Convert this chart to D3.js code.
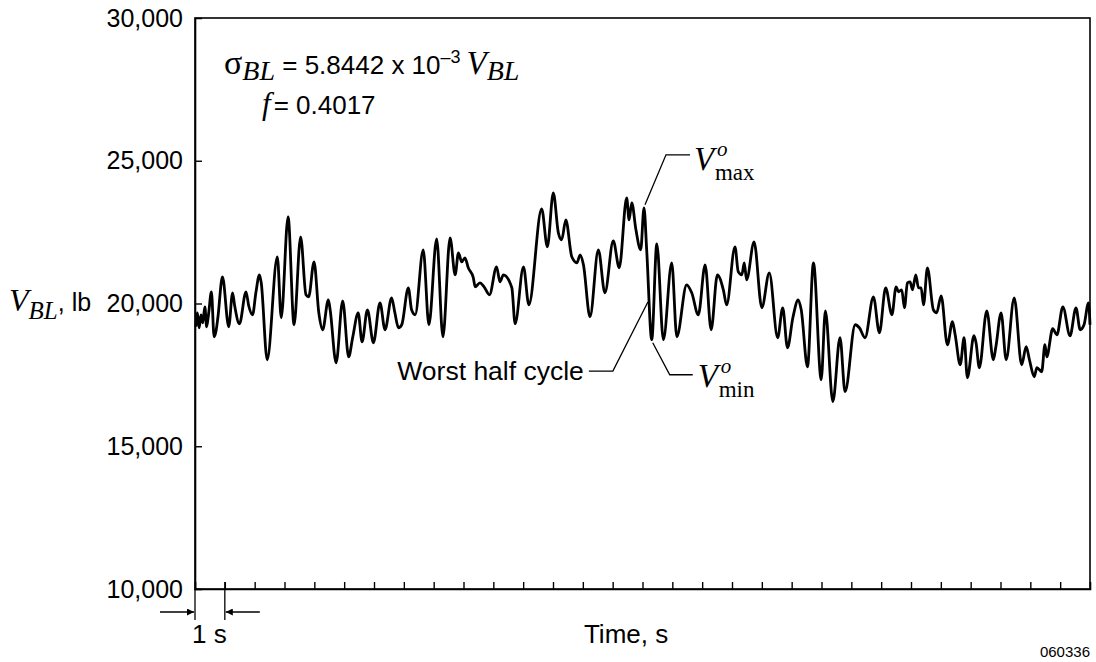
<!DOCTYPE html>
<html>
<head>
<meta charset="utf-8">
<script src="https://cdn.jsdelivr.net/npm/d3@7"></script>
<style>
  body { margin: 0; background: #fff; }
  .sans { font-family: "Liberation Sans", Arial, Helvetica, sans-serif; }
  .serif { font-family: "Liberation Serif", "Times New Roman", serif; }
</style>
</head>
<body>
<div id="chart"></div>
<script>
// Data: time (s) and bending load V_BL (lb)
var timeS = [0.03,0.08,0.14,0.20,0.26,0.33,0.39,0.46,0.55,0.64,0.70,0.77,0.92,1.13,1.26,1.33,1.49,1.71,1.80,1.93,
  2.04,2.16,2.22,2.42,2.76,2.89,3.12,3.32,3.54,3.72,3.81,3.99,4.15,4.28,4.47,4.53,4.73,4.95,5.15,5.29,
  5.47,5.60,5.78,5.98,6.20,6.37,6.59,6.70,6.82,6.93,7.15,7.26,7.38,7.65,7.84,8.10,8.31,8.55,8.72,8.83,
  8.94,9.05,9.16,9.33,9.39,9.55,9.69,9.87,10.11,10.22,10.34,10.62,10.73,11.01,11.19,11.62,11.81,12.01,12.18,12.29,
  12.43,12.63,12.80,12.91,13.02,13.24,13.52,13.74,14.02,14.22,14.47,14.55,14.64,14.78,14.94,15.05,15.14,15.31,15.48,15.70,
  15.98,16.15,16.48,16.65,16.87,17.10,17.30,17.51,17.71,17.82,18.10,18.21,18.33,18.41,18.49,18.74,19.00,19.25,19.53,19.70,
  19.86,20.04,20.22,20.32,20.53,20.73,20.99,21.13,21.38,21.62,21.79,22.13,22.27,22.46,22.74,22.94,23.15,23.36,23.50,23.58,
  23.69,23.78,23.88,23.97,24.05,24.16,24.25,24.34,24.42,24.55,24.75,24.86,25.01,25.22,25.39,25.48,25.65,25.78,25.89,26.11,
  26.18,26.29,26.54,26.76,26.85,27.02,27.19,27.46,27.71,27.86,27.97,28.13,28.22,28.38,28.49,28.55,28.75,28.89,29.09,29.33,
  29.53,29.67,29.80,29.95,30.00];
var loadLb = [19185,19675,19150,19605,19325,19885,19185,19675,20410,18835,19010,19535,20935,19185,20375,19920,19290,20410,19920,19605,
  20375,21005,20725,18030,21635,19500,23035,19255,22335,20305,20235,21460,19675,19080,20130,19780,17925,20095,18135,18835,
  19675,18660,19780,18625,20025,19080,20200,19675,19150,19255,20550,19780,19605,21880,19255,22265,18835,22300,21005,21775,
  21460,21600,21250,20900,20585,20725,20585,20305,21285,20760,21005,20550,19290,21285,19955,23315,21985,23875,22475,22230,
  22930,21635,21425,21705,21355,19535,21880,20375,22195,21250,23700,22930,23525,22580,21880,23350,21880,18730,22090,18730,
  21425,18835,20655,20375,19605,21355,19080,21005,20480,19955,21985,21110,21005,21425,20830,22160,19850,21075,18800,19850,
  18450,19500,20130,19780,17785,21425,17330,19745,16560,18800,16910,19255,19150,18800,20235,18975,20550,19605,20585,20410,
  20480,19850,20725,20760,20480,21005,20550,20550,19955,21250,19780,19675,20270,18555,19360,18905,17855,18800,17400,18870,
  18625,17750,19745,18030,18520,19675,18030,20200,17855,18485,18030,17435,17750,17610,18555,18135,19115,18905,19885,18870,
  19850,19080,19255,20025,19255];

var yTicks = [10000, 15000, 20000, 25000, 30000];
var xTicks = d3.range(1, 30);   // one tick per second

var margin = {top: 18, right: 6, bottom: 73, left: 195},
    width = 1096, height = 662;
var w = width - margin.left - margin.right,
    h = height - margin.top - margin.bottom;

var x = d3.scaleLinear().domain([0, 30]).range([0, w]);
var y = d3.scaleLinear().domain([10000, 30000]).range([h, 0]);

var svg = d3.select("#chart").append("svg")
    .attr("width", width).attr("height", height);
var g = svg.append("g")
    .attr("transform", "translate(" + margin.left + "," + margin.top + ")");

// frame
g.append("rect").attr("width", w).attr("height", h)
    .attr("fill", "none").attr("stroke", "#000").attr("stroke-width", 1.6);

// axes, ticks pointing inward
var xAxis = d3.axisBottom(x).tickValues(xTicks).tickSize(-7).tickFormat("");
var yAxis = d3.axisLeft(y).tickValues(yTicks).tickSize(-7).tickPadding(12)
    .tickFormat(d3.format(","));

var gx = g.append("g").attr("transform", "translate(0," + h + ")").call(xAxis);
var gy = g.append("g").call(yAxis);
[gx, gy].forEach(function(a) {
  a.select(".domain").attr("stroke", "#000").attr("stroke-width", 1.6);
  a.selectAll(".tick line").attr("stroke", "#000").attr("stroke-width", 1.4);
});
gy.selectAll(".tick text")
    .attr("class", "sans").attr("font-size", 25).attr("fill", "#000");
gy.selectAll(".tick").filter(function(d) { return d == 10000 || d == 30000; })
    .select("line").remove();

// the trace
var pts = timeS.map(function(t, i) { return [t, loadLb[i]]; });
var line = d3.line()
    .x(function(d) { return x(d[0]); })
    .y(function(d) { return y(d[1]); })
    .curve(d3.curveMonotoneX);
g.append("path").datum(pts)
    .attr("d", line)
    .attr("fill", "none").attr("stroke", "#000")
    .attr("stroke-width", 2.8).attr("stroke-linejoin", "round");

// y axis title: V_BL, lb
var yt = svg.append("text").attr("x", 9).attr("y", 311);
yt.append("tspan").attr("class", "serif").attr("font-style", "italic").attr("font-size", 32).text("V");
yt.append("tspan").attr("class", "serif").attr("font-style", "italic").attr("font-size", 25)
    .attr("dy", 8).text("BL");
yt.append("tspan").attr("class", "sans").attr("font-size", 25).attr("dy", -8).text(", lb");

// equation block
var e1 = g.append("text").attr("x", 29).attr("y", 56);
e1.append("tspan").attr("class", "serif").attr("font-size", 34).text("σ");
e1.append("tspan").attr("class", "serif").attr("font-style", "italic").attr("font-size", 28)
    .attr("dy", 6).text("BL");
e1.append("tspan").attr("class", "sans").attr("font-size", 26).attr("dy", -6).text(" = 5.8442 x 10");
e1.append("tspan").attr("class", "sans").attr("font-size", 18).attr("dy", -11).text("–3");
e1.append("tspan").attr("class", "serif").attr("font-style", "italic").attr("font-size", 33)
    .attr("dy", 11).attr("dx", 6).text("V");
e1.append("tspan").attr("class", "serif").attr("font-style", "italic").attr("font-size", 28)
    .attr("dy", 6).text("BL");

var e2 = g.append("text").attr("x", 67).attr("y", 96);
e2.append("tspan").attr("class", "serif").attr("font-style", "italic").attr("font-size", 31).text("f");
e2.append("tspan").attr("class", "sans").attr("font-size", 26).attr("dx", 3).text("= 0.4017");

// annotation helpers
function leader(p) {
  g.append("path").attr("d", d3.line()(p))
      .attr("fill", "none").attr("stroke", "#000").attr("stroke-width", 1.3);
}
function vLabel(px, py, sub) {
  g.append("text").attr("class", "serif").attr("font-style", "italic").attr("font-size", 33)
      .attr("x", px).attr("y", py).text("V");
  g.append("text").attr("class", "serif").attr("font-style", "italic").attr("font-size", 21)
      .attr("x", px + 23).attr("y", py - 14).text("o");
  g.append("text").attr("class", "serif").attr("font-size", 23)
      .attr("x", px + 21).attr("y", py + 10).text(sub);
}

// V max
var tMax = 15.05, vMax = 23350;
var ax = x(tMax), ay = y(vMax);
leader([[ax + 1, ay - 3], [ax + 22, ay - 53], [ax + 46, ay - 53]]);
vLabel(ax + 50, ay - 38, "max");

// V min
var tMin = 15.31, vMin = 18730;
var bx = x(tMin), by = y(vMin);
leader([[bx + 1, by + 3], [bx + 18, by + 35], [bx + 41, by + 35]]);
vLabel(bx + 46, by + 47, "min");

// worst half cycle
var cx = x(15.18), cy = y(20050);
leader([[cx, cy], [cx - 35, cy + 69], [cx - 59, cy + 69]]);
g.append("text").attr("class", "sans").attr("font-size", 26.5)
    .attr("x", cx - 64).attr("y", cy + 78).attr("text-anchor", "end")
    .text("Worst half cycle");

// 1 s scale marker under the axis
var s0 = x(0), s1 = x(1), ay0 = h + 31, arrY = h + 23;
svg.append("defs").append("marker")
    .attr("id", "arr").attr("viewBox", "0 0 10 10").attr("refX", 10).attr("refY", 5)
    .attr("markerWidth", 15).attr("markerHeight", 7).attr("markerUnits", "userSpaceOnUse")
    .attr("orient", "auto")
  .append("path").attr("d", "M0,0L10,5L0,10z").attr("fill", "#000");
leader([[s0, h], [s0, ay0]]);
leader([[s1, h - 7], [s1, ay0]]);
g.append("line").attr("x1", s0 - 35).attr("x2", s0 - 1).attr("y1", arrY).attr("y2", arrY)
    .attr("stroke", "#000").attr("stroke-width", 1.3).attr("marker-end", "url(#arr)");
g.append("line").attr("x1", s1 + 35).attr("x2", s1 + 1).attr("y1", arrY).attr("y2", arrY)
    .attr("stroke", "#000").attr("stroke-width", 1.3).attr("marker-end", "url(#arr)");
g.append("text").attr("class", "sans").attr("font-size", 26)
    .attr("x", s0 - 3).attr("y", h + 54).text("1 s");

// x axis title
g.append("text").attr("class", "sans").attr("font-size", 26)
    .attr("x", x(14.45)).attr("y", h + 54).attr("text-anchor", "middle").text("Time, s");

// figure number
svg.append("text").attr("class", "sans").attr("font-size", 15)
    .attr("x", 1090).attr("y", 657).attr("text-anchor", "end").text("060336");
</script>
</body>
</html>
